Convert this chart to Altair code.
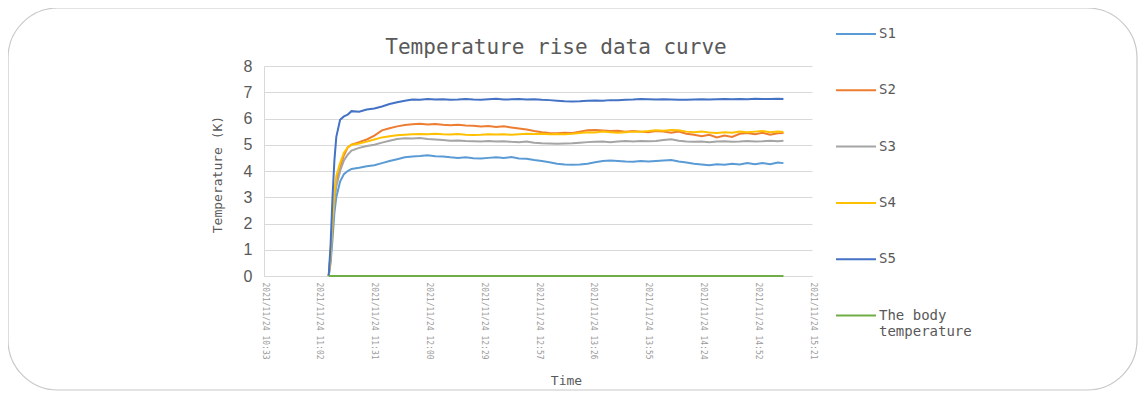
import altair as alt
import pandas as pd

# minutes after 10:33 on 2021/11/24
minutes = [34, 35, 36, 37, 38, 40, 42, 44, 46,
           50, 54, 58, 62, 66, 70, 74, 78, 82, 86,
           90, 94, 98, 102, 106, 110, 114, 118, 122, 126,
           130, 134, 138, 142, 146, 150, 154, 158, 162, 166,
           170, 174, 178, 182, 186, 190, 194, 198, 202, 206,
           210, 214, 218, 222, 226, 230, 234, 238, 242, 246,
           250, 254, 258, 262, 266, 270,
           273]

s1 = [0, 0.5, 1.4, 2.4, 3.0, 3.6, 3.88, 4.0, 4.08,
      4.12, 4.18, 4.22, 4.3, 4.38, 4.45, 4.52, 4.55, 4.57, 4.6,
      4.56, 4.55, 4.52, 4.5, 4.52, 4.49, 4.48, 4.5, 4.52, 4.5,
      4.53, 4.48, 4.47, 4.42, 4.38, 4.33, 4.28, 4.25, 4.24, 4.25,
      4.28, 4.33, 4.38, 4.4, 4.38, 4.36, 4.35, 4.38, 4.36, 4.38,
      4.4, 4.42, 4.36, 4.32, 4.28, 4.25, 4.22, 4.26, 4.24, 4.28,
      4.25, 4.3, 4.26, 4.3, 4.26, 4.32,
      4.3]

s2 = [0, 0.8, 2.0, 3.0, 3.6, 4.15, 4.6, 4.9, 5.0,
      5.1, 5.2, 5.35, 5.55, 5.63, 5.7, 5.75, 5.78, 5.8, 5.77,
      5.79, 5.76, 5.74, 5.76, 5.73, 5.72, 5.7, 5.71, 5.68, 5.7,
      5.66, 5.62, 5.58, 5.52, 5.48, 5.45, 5.44, 5.46, 5.45, 5.5,
      5.55, 5.56, 5.54, 5.52, 5.53, 5.5, 5.52, 5.5, 5.48, 5.52,
      5.5, 5.46, 5.5, 5.42, 5.38, 5.32, 5.38, 5.28, 5.35, 5.3,
      5.42, 5.45, 5.4, 5.46, 5.38, 5.44,
      5.45]

s3 = [0, 0.7, 1.8, 2.8, 3.4, 4.0, 4.4, 4.62, 4.78,
      4.88, 4.95, 5.0, 5.08, 5.15, 5.22, 5.25, 5.24, 5.26, 5.22,
      5.2, 5.18, 5.15, 5.16, 5.14, 5.13, 5.12, 5.14, 5.12, 5.13,
      5.11, 5.1, 5.12, 5.08, 5.06, 5.05, 5.04, 5.05, 5.06, 5.08,
      5.1, 5.11, 5.12, 5.1, 5.12, 5.14, 5.12, 5.14, 5.13, 5.14,
      5.18, 5.21, 5.15, 5.12, 5.11, 5.12, 5.1, 5.12, 5.13, 5.11,
      5.12, 5.14, 5.12, 5.13, 5.15, 5.13,
      5.15]

s4 = [0, 0.9, 2.2, 3.2, 3.8, 4.3, 4.7, 4.9, 5.0,
      5.05, 5.12, 5.2, 5.28, 5.32, 5.36, 5.38, 5.4, 5.41, 5.4,
      5.42, 5.4, 5.39, 5.41, 5.38, 5.37, 5.38, 5.4, 5.39, 5.4,
      5.38, 5.4, 5.42, 5.41, 5.42, 5.4, 5.41, 5.4, 5.42, 5.45,
      5.48, 5.47, 5.5, 5.48, 5.46, 5.48, 5.5, 5.5, 5.52, 5.55,
      5.53, 5.56, 5.55, 5.5, 5.48, 5.5, 5.47, 5.45, 5.48, 5.46,
      5.5, 5.48, 5.5, 5.52, 5.48, 5.5,
      5.49]

s5 = [0, 1.2, 3.0, 4.4, 5.3, 5.95, 6.08, 6.15, 6.28,
      6.26, 6.34, 6.38, 6.46, 6.55, 6.62, 6.68, 6.72, 6.71, 6.74,
      6.72, 6.73, 6.71, 6.72, 6.74, 6.72, 6.71, 6.73, 6.75, 6.72,
      6.73, 6.74, 6.72, 6.73, 6.71, 6.70, 6.68, 6.66, 6.65, 6.66,
      6.68, 6.69, 6.68, 6.70, 6.70, 6.71, 6.72, 6.74, 6.73, 6.72,
      6.73, 6.72, 6.71, 6.71, 6.72, 6.73, 6.72, 6.73, 6.74, 6.73,
      6.74, 6.73, 6.75, 6.74, 6.74, 6.75,
      6.74]

body = [0, 0, 0, 0, 0, 0, 0, 0, 0,
        0, 0, 0, 0, 0, 0, 0, 0, 0, 0,
        0, 0, 0, 0, 0, 0, 0, 0, 0, 0,
        0, 0, 0, 0, 0, 0, 0, 0, 0, 0,
        0, 0, 0, 0, 0, 0, 0, 0, 0, 0,
        0, 0, 0, 0, 0, 0, 0, 0, 0, 0,
        0, 0, 0, 0, 0, 0,
        0]

series_names = ["S1", "S2", "S3", "S4", "S5", "The body temperature"]
series_colors = ["#5B9BD5", "#ED7D31", "#A5A5A5", "#FFC000", "#4472C4", "#70AD47"]

tick_minutes = [0, 28.8, 57.6, 86.4, 115.2, 144, 172.8, 201.6, 230.4, 259.2, 288]
tick_labels = ["2021/11/24 10:33", "2021/11/24 11:02", "2021/11/24 11:31",
               "2021/11/24 12:00", "2021/11/24 12:29", "2021/11/24 12:57",
               "2021/11/24 13:26", "2021/11/24 13:55", "2021/11/24 14:24",
               "2021/11/24 14:52", "2021/11/24 15:21"]

rows = []
for name, vals in zip(series_names, [s1, s2, s3, s4, s5, body]):
    for t, v in zip(minutes, vals):
        rows.append({"minute": t, "value": v, "series": name})
df = pd.DataFrame(rows)

label_array = "[" + ",".join("'" + s + "'" for s in tick_labels) + "]"

lines = alt.Chart(df).mark_line(strokeWidth=2).encode(
    x=alt.X("minute:Q",
            scale=alt.Scale(domain=[0, 288], nice=False, zero=False),
            axis=alt.Axis(values=tick_minutes,
                          labelExpr=label_array + "[round(datum.value/28.8)]",
                          labelAngle=90, labelFont="DejaVu Sans Mono", labelFontSize=8,
                          labelColor="#9a9a9a", labelPadding=6, ticks=False,
                          grid=False, domainColor="#d9d9d9",
                          title="Time", titleFont="DejaVu Sans Mono", titleFontSize=13,
                          titleFontWeight="normal", titleColor="#595959",
                          titleX=302, titleY=104, titleBaseline="middle",
                          labelOverlap=False, labelBound=False, labelFlush=False)),
    y=alt.Y("value:Q",
            scale=alt.Scale(domain=[0, 8], nice=False),
            axis=alt.Axis(values=[0, 1, 2, 3, 4, 5, 6, 7, 8], ticks=False,
                          labelFont="Liberation Sans", labelFontSize=16, labelColor="#595959",
                          labelPadding=12, gridColor="#d9d9d9", domainColor="#d9d9d9",
                          title="Temperature (K)", titleFont="DejaVu Sans Mono",
                          titleFontSize=13, titleFontWeight="normal", titleColor="#595959",
                          titleX=-47, titleY=108, titleBaseline="middle")),
    color=alt.Color("series:N",
                    scale=alt.Scale(domain=series_names, range=series_colors),
                    legend=alt.Legend(orient="none", legendX=571, legendY=-53,
                                      title=None, symbolType="stroke", symbolSize=1600,
                                      symbolStrokeWidth=2, labelFont="DejaVu Sans Mono",
                                      labelFontSize=14, labelColor="#595959",
                                      labelOffset=2, rowPadding=28.3, labelLimit=300,
                                      labelExpr="datum.label == 'The body temperature' ? ['The body', 'temperature'] : datum.label")),
    detail="series:N",
)

frame = alt.Chart(pd.DataFrame({"k": [0]})).mark_rect(
    fill="white", fillOpacity=0, stroke="#c8c8c8", strokeWidth=1.2, cornerRadius=50
).encode(
    x=alt.value(-256), x2=alt.value(873), y=alt.value(-58), y2=alt.value(324)
)

chart = alt.layer(frame, lines).properties(
    width=548, height=210,
    title=alt.TitleParams("Temperature rise data curve", font="DejaVu Sans Mono",
                          fontSize=21, fontWeight="normal", color="#595959",
                          anchor="middle", dx=18, dy=55),
    autosize=alt.AutoSizeParams(type="none"),
    padding={"left": 256, "top": 58, "right": 326, "bottom": 117},
).configure_view(stroke=None)

chart.save("out.html", embed_options={"renderer": "svg", "actions": False})
